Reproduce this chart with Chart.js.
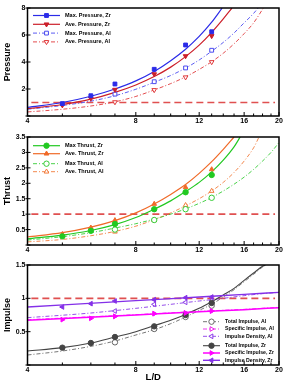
<!DOCTYPE html>
<html>
<head>
<meta charset="utf-8">
<script src="https://cdn.jsdelivr.net/npm/chart.js@4.4.1/dist/chart.umd.min.js"></script>
<style>
  html, body { margin: 0; padding: 0; background: #fff; }
  #wrap { position: relative; width: 288px; height: 388px; }
  canvas { position: absolute; left: 0; }
</style>
</head>
<body>
<div id="wrap">
  <canvas id="cPressure" width="288" height="128" style="top:0;width:288px;height:128px"></canvas>
  <canvas id="cThrust" width="288" height="129" style="top:128px;width:288px;height:129px"></canvas>
  <canvas id="cImpulse" width="288" height="131" style="top:257px;width:288px;height:131px"></canvas>
</div>
<script>
// L/D values of the measured points
const LD_ZR = [5, 6, 7, 9, 11, 13];
const LD_AL = [7, 9, 11, 13];
const X_TICKS = [4, 5, 6, 7, 8, 9, 10, 11, 12, 13, 14, 15, 16, 17, 18, 19, 20];
const X_LABELS = [4, 8, 12, 16, 20];
const REF_X = [4.1, 19.5];
const REF_Y = [1, 1];

// pressure - points
const maxPZr = [0.92, 1.5, 2.37, 3.46, 5.26, 6.24];
const avePZr = [0.8, 1.3, 1.95, 3.1, 4.44, 5.93];
const maxPAl = [1.62, 2.54, 3.56, 4.87];
const avePAl = [1.03, 1.93, 2.87, 4.0];
// pressure - fitted curves
const fitX_maxPZr = [4, 5, 6, 7, 8, 9, 10, 11, 12, 13, 13.9];
const fit_maxPZr = [0.64, 1.0, 1.46, 2.0, 2.6, 3.3, 4.1, 4.95, 5.9, 6.95, 8.0];
const fitX_avePZr = [4, 5, 6, 7, 8, 9, 10, 11, 12, 13, 14, 14.8];
const fit_avePZr = [0.54, 0.85, 1.25, 1.75, 2.3, 2.92, 3.62, 4.4, 5.25, 6.2, 7.2, 8.0];
const fitX_maxPAl = [4, 5, 6, 7, 8, 9, 10, 11, 12, 13, 14, 15, 16, 17, 17.5];
const fit_maxPAl = [0.5, 0.78, 1.1, 1.5, 1.98, 2.5, 3.0, 3.55, 4.15, 4.8, 5.45, 6.15, 6.9, 7.6, 8.0];
const fitX_avePAl = [4, 5, 6, 7, 8, 9, 10, 11, 12, 13, 14, 15, 16, 17, 18.1];
const fit_avePAl = [0.3, 0.5, 0.74, 1.05, 1.45, 1.93, 2.4, 2.9, 3.45, 4.02, 4.65, 5.35, 6.1, 6.9, 8.0];

// thrust - points
const maxTZr = [0.28, 0.46, 0.68, 1.16, 1.71, 2.27];
const aveTZr = [0.35, 0.56, 0.8, 1.33, 1.87, 2.45];
const maxTAl = [0.5, 0.81, 1.16, 1.53];
const aveTAl = [0.43, 0.8, 1.29, 1.75];
// thrust - fitted curves
const fitX_maxTZr = [4, 5, 6, 7, 8, 9, 10, 11, 12, 13, 14, 15, 15.6];
const fit_maxTZr = [0.2, 0.32, 0.47, 0.66, 0.89, 1.16, 1.43, 1.73, 2.03, 2.37, 2.75, 3.18, 3.5];
const fitX_aveTZr = [4, 5, 6, 7, 8, 9, 10, 11, 12, 13, 14, 15];
const fit_aveTZr = [0.26, 0.4, 0.58, 0.79, 1.04, 1.33, 1.64, 1.96, 2.32, 2.7, 3.1, 3.5];
const fitX_maxTAl = [4, 5, 6, 7, 8, 9, 10, 11, 12, 13, 14, 15, 16, 17, 18, 19, 20];
const fit_maxTAl = [0.16, 0.27, 0.4, 0.55, 0.69, 0.84, 1.0, 1.17, 1.35, 1.54, 1.75, 1.97, 2.2, 2.45, 2.72, 3.0, 3.32];
const fitX_aveTAl = [4, 5, 6, 7, 8, 9, 10, 11, 12, 13, 14, 15, 16, 17, 17.6];
const fit_aveTAl = [0.1, 0.18, 0.3, 0.44, 0.61, 0.82, 1.04, 1.27, 1.5, 1.75, 2.03, 2.35, 2.72, 3.15, 3.5];

// impulse - points
const totIZr = [0.26, 0.33, 0.42, 0.58, 0.75, 0.93];
const specIZr = [0.68, 0.7, 0.73, 0.77, 0.78, 0.81];
const densIZr = [0.87, 0.92, 0.96, 0.98, 1.01, 1.02];
const totIAl = [0.34, 0.54, 0.72, 0.89];
const specIAl = [0.73, 0.77, 0.78, 0.81];
const densIAl = [0.81, 0.91, 0.94, 0.97];
// impulse - fitted curves
const fitX_totIZr = [4, 5, 6, 7, 8, 9, 10, 11, 12, 13, 14, 15, 16, 17, 18, 18.3];
const fit_totIZr = [0.21, 0.26, 0.33, 0.42, 0.5, 0.59, 0.67, 0.76, 0.85, 0.95, 1.05, 1.15, 1.27, 1.38, 1.48, 1.5];
const fitX_totIAl = [4, 5, 6, 7, 8, 9, 10, 11, 12, 13, 14, 15, 16, 17, 18, 18.4];
const fit_totIAl = [0.15, 0.21, 0.28, 0.36, 0.45, 0.53, 0.62, 0.72, 0.82, 0.91, 1.02, 1.13, 1.25, 1.36, 1.47, 1.5];
const fitX_lin = [4, 8, 12, 16, 20];
const fit_specIZr = [0.67, 0.75, 0.8, 0.83, 0.86];
const fit_specIAl = [0.68, 0.755, 0.805, 0.835, 0.865];
const fit_densIZr = [0.87, 0.965, 1.02, 1.06, 1.09];
const fitX_densIAl = [4, 6, 8, 10, 12, 14, 16, 18, 20];
const fit_densIAl = [0.71, 0.78, 0.85, 0.91, 0.96, 1.0, 1.04, 1.07, 1.09];

const DASHDOT = [4, 2, 1, 2];
const FONT = '"Liberation Sans", Arial, sans-serif';
const MARK_R = 2.7;

const st = {
  maxPZr: { label: 'Max. Pressure, Zr', color: '#2b2be8', dash: [], lw: 1.2, pt: 'rect', rot: 0, fill: true },
  avePZr: { label: 'Ave. Pressure, Zr', color: '#cc1f2a', dash: [], lw: 1.2, pt: 'triangle', rot: 180, fill: true },
  maxPAl: { label: 'Max. Pressure, Al', color: '#4a4af0', dash: DASHDOT, lw: 0.9, pt: 'rect', rot: 0, fill: false },
  avePAl: { label: 'Ave. Pressure, Al', color: '#e0383a', dash: DASHDOT, lw: 0.9, pt: 'triangle', rot: 180, fill: false },
  maxTZr: { label: 'Max Thrust, Zr', color: '#22c922', dash: [], lw: 1.2, pt: 'circle', rot: 0, fill: true },
  aveTZr: { label: 'Ave. Thrust, Zr', color: '#f06a28', dash: [], lw: 1.2, pt: 'triangle', rot: 0, fill: true },
  maxTAl: { label: 'Max Thrust, Al', color: '#35cc35', dash: DASHDOT, lw: 0.9, pt: 'circle', rot: 0, fill: false },
  aveTAl: { label: 'Ave. Thrust, Al', color: '#f27a3a', dash: DASHDOT, lw: 0.9, pt: 'triangle', rot: 0, fill: false },
  totIAl: { label: 'Total Impulse, Al', color: '#666666', dash: DASHDOT, lw: 0.9, pt: 'circle', rot: 0, fill: false },
  specIAl: { label: 'Specific Impulse, Al', color: '#ee22ee', dash: DASHDOT, lw: 0.9, pt: 'triangle', rot: 90, fill: false },
  densIAl: { label: 'Impulse Density, Al', color: '#8a3ae8', dash: DASHDOT, lw: 0.9, pt: 'triangle', rot: 270, fill: false },
  totIZr: { label: 'Total Impulse, Zr', color: '#444444', dash: [], lw: 1.1, pt: 'circle', rot: 0, fill: true },
  specIZr: { label: 'Specific Impulse, Zr', color: '#ff00ff', dash: [], lw: 1.5, pt: 'triangle', rot: 90, fill: true },
  densIZr: { label: 'Impulse Density, Zr', color: '#8430e8', dash: [], lw: 1.4, pt: 'triangle', rot: 270, fill: true }
};

// legend layout per canvas (kept out of chart options so nulls survive)
const legends = {
  cPressure: { x: 33, y: 15.5, len: 27, step: 8.8, gap: 0, size: 5.5,
    items: [st.maxPZr, st.avePZr, st.maxPAl, st.avePAl] },
  cThrust: { x: 33, y: 17.7, len: 27, step: 8, gap: 2, size: 5.5,
    items: [st.maxTZr, st.aveTZr, null, st.maxTAl, st.aveTAl] },
  cImpulse: { x: 203, y: 64.7, len: 17, step: 7.3, gap: 2.1, size: 5.2,
    items: [st.totIAl, st.specIAl, st.densIAl, null, st.totIZr, st.specIZr, st.densIZr] }
};

function pts(xs, ys) {
  return xs.map((x, i) => ({ x: x, y: ys[i] }));
}

function curve(xs, ys, s) {
  return {
    data: pts(xs, ys), borderColor: s.color, borderWidth: s.lw, borderDash: s.dash,
    pointRadius: 0, fill: false, cubicInterpolationMode: 'monotone'
  };
}

function marks(xs, ys, s) {
  return {
    data: pts(xs, ys), showLine: false, pointStyle: s.pt, rotation: s.rot,
    pointRadius: MARK_R, pointBorderWidth: 1, borderColor: s.color,
    pointBorderColor: s.color, pointBackgroundColor: s.fill ? s.color : '#fff'
  };
}

function refLine() {
  return {
    data: pts(REF_X, REF_Y), borderColor: '#e05050', borderWidth: 1.6,
    borderDash: [7, 4], pointRadius: 0, fill: false
  };
}

// frame round the plot and inward tick marks
const frame = {
  id: 'frame',
  afterDatasetsDraw(chart) {
    const ctx = chart.ctx, a = chart.chartArea, x = chart.scales.x, y = chart.scales.y;
    ctx.save();
    ctx.strokeStyle = '#000';
    ctx.lineWidth = 1.5;
    ctx.strokeRect(a.left, a.top, a.right - a.left, a.bottom - a.top);
    ctx.lineWidth = 1;
    ctx.beginPath();
    X_TICKS.forEach(v => {
      const px = x.getPixelForValue(v);
      const len = X_LABELS.includes(v) ? 4 : 2.5;
      ctx.moveTo(px, a.bottom);
      ctx.lineTo(px, a.bottom - len);
    });
    y.ticks.forEach(t => {
      const py = y.getPixelForValue(t.value);
      ctx.moveTo(a.left - 2, py);
      ctx.lineTo(a.left + 3, py);
    });
    ctx.stroke();
    ctx.restore();
  }
};

// legend drawn inside the plot
const panelLegend = {
  id: 'panelLegend',
  afterDraw(chart) {
    const lg = legends[chart.canvas.id];
    if (!lg) return;
    const ctx = chart.ctx;
    let y = lg.y;
    lg.items.forEach(it => {
      if (!it) { y += lg.gap; return; }
      ctx.save();
      ctx.strokeStyle = it.color;
      ctx.lineWidth = it.lw;
      ctx.setLineDash(it.dash);
      ctx.beginPath();
      ctx.moveTo(lg.x, y);
      ctx.lineTo(lg.x + lg.len, y);
      ctx.stroke();
      ctx.setLineDash([]);
      ctx.fillStyle = it.fill ? it.color : '#fff';
      ctx.strokeStyle = it.color;
      ctx.lineWidth = 1;
      Chart.helpers.drawPoint(ctx, { pointStyle: it.pt, rotation: it.rot, radius: MARK_R, borderWidth: 1 }, lg.x + lg.len / 2, y);
      ctx.fillStyle = '#000';
      ctx.font = 'bold ' + lg.size + 'px ' + FONT;
      ctx.textBaseline = 'middle';
      ctx.fillText(it.label, lg.x + lg.len + 5, y);
      ctx.restore();
      y += lg.step;
    });
  }
};

function makePanel(id, cfg) {
  return new Chart(document.getElementById(id), {
    type: 'line',
    data: { datasets: cfg.datasets },
    options: {
      responsive: false,
      animation: false,
      devicePixelRatio: 1,
      layout: { padding: { top: cfg.padTop, right: 9, left: 0, bottom: 0 } },
      plugins: {
        legend: { display: false },
        tooltip: { enabled: false }
      },
      scales: {
        x: {
          type: 'logarithmic', min: 4, max: 20,
          afterBuildTicks: s => { s.ticks = X_TICKS.map(v => ({ value: v })); },
          afterFit: s => { s.height = cfg.xHeight; },
          ticks: {
            autoSkip: false, maxRotation: 0, padding: 1, color: '#000',
            font: { family: FONT, size: 7, weight: 'bold' },
            callback: v => X_LABELS.includes(v) ? String(v) : ''
          },
          grid: { display: false, drawTicks: false },
          border: { display: false },
          title: {
            display: !!cfg.xTitle, text: cfg.xTitle || '', color: '#000',
            font: { family: FONT, size: 9.5, weight: 'bold' },
            padding: { top: 0, bottom: 5 }
          }
        },
        y: {
          min: cfg.yMin, max: cfg.yMax,
          afterFit: s => { s.width = 27.5; },
          ticks: {
            stepSize: cfg.yStep, padding: 2, color: '#000',
            font: { family: FONT, size: 7, weight: 'bold' },
            callback: v => v === 0 ? '' : String(Number(v.toFixed(2)))
          },
          grid: { display: false, drawTicks: false },
          border: { display: false },
          title: {
            display: true, text: cfg.yTitle, color: '#000',
            font: { family: FONT, size: 9, weight: 'bold' },
            padding: { top: 2, bottom: 0 }
          }
        }
      }
    },
    plugins: [frame, panelLegend]
  });
}

makePanel('cPressure', {
  padTop: 8, xHeight: 12, yMin: 0, yMax: 8, yStep: 2, yTitle: 'Pressure',
  datasets: [
    marks(LD_ZR, maxPZr, st.maxPZr),
    marks(LD_ZR, avePZr, st.avePZr),
    marks(LD_AL, maxPAl, st.maxPAl),
    marks(LD_AL, avePAl, st.avePAl),
    curve(fitX_maxPZr, fit_maxPZr, st.maxPZr),
    curve(fitX_avePZr, fit_avePZr, st.avePZr),
    curve(fitX_maxPAl, fit_maxPAl, st.maxPAl),
    curve(fitX_avePAl, fit_avePAl, st.avePAl),
    refLine()
  ]
});

makePanel('cThrust', {
  padTop: 9, xHeight: 12, yMin: 0, yMax: 3.5, yStep: 0.5, yTitle: 'Thrust',
  datasets: [
    marks(LD_ZR, maxTZr, st.maxTZr),
    marks(LD_ZR, aveTZr, st.aveTZr),
    marks(LD_AL, maxTAl, st.maxTAl),
    marks(LD_AL, aveTAl, st.aveTAl),
    curve(fitX_maxTZr, fit_maxTZr, st.maxTZr),
    curve(fitX_aveTZr, fit_aveTZr, st.aveTZr),
    curve(fitX_maxTAl, fit_maxTAl, st.maxTAl),
    curve(fitX_aveTAl, fit_aveTAl, st.aveTAl),
    refLine()
  ]
});

makePanel('cImpulse', {
  padTop: 8, xHeight: 23, yMin: 0, yMax: 1.5, yStep: 0.5, yTitle: 'Impulse', xTitle: 'L/D',
  datasets: [
    marks(LD_ZR, densIZr, st.densIZr),
    marks(LD_ZR, specIZr, st.specIZr),
    marks(LD_ZR, totIZr, st.totIZr),
    marks(LD_AL, densIAl, st.densIAl),
    marks(LD_AL, specIAl, st.specIAl),
    marks(LD_AL, totIAl, st.totIAl),
    curve(fitX_lin, fit_densIZr, st.densIZr),
    curve(fitX_lin, fit_specIZr, st.specIZr),
    curve(fitX_totIZr, fit_totIZr, st.totIZr),
    curve(fitX_densIAl, fit_densIAl, st.densIAl),
    curve(fitX_lin, fit_specIAl, st.specIAl),
    curve(fitX_totIAl, fit_totIAl, st.totIAl),
    refLine()
  ]
});
</script>
</body>
</html>
